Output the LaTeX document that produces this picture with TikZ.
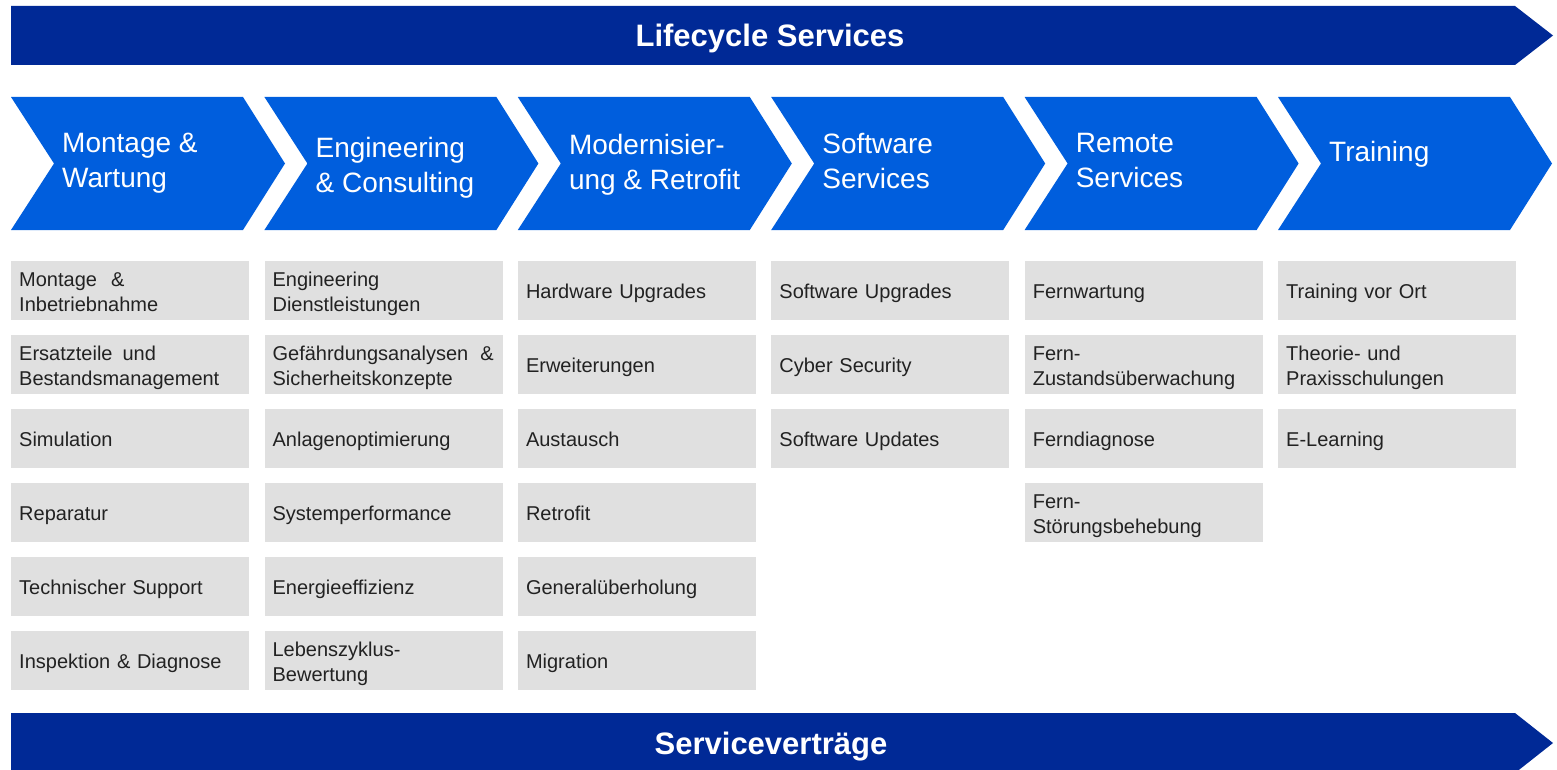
\documentclass[tikz,border=0pt]{standalone}
\usepackage{fontspec}
\setmainfont{Liberation Sans}
\definecolor{dkblue}{RGB}{0,41,150}
\definecolor{chblue}{RGB}{0,94,221}
\definecolor{boxgray}{RGB}{224,224,224}
\definecolor{txtgray}{RGB}{34,34,34}
\begin{document}
\begin{tikzpicture}[x=1pt,y=-1pt,
  banner/.style={fill=dkblue},
  chev/.style={fill=chblue},
  bannertext/.style={text=white,font=\fontsize{31}{36}\selectfont\bfseries,inner sep=0pt},
  chevtext/.style={text=white,font=\fontsize{28}{35}\selectfont,align=left,anchor=west,inner sep=0pt},
  item/.style={anchor=north west,fill=boxgray,minimum height=59pt,text width=222pt,
    inner xsep=8pt,inner ysep=0pt,align=left,text=txtgray,font=\fontsize{20}{25}\selectfont,
    execute at begin node={\rule{0pt}{22pt}},execute at end node={\rule[-6pt]{0pt}{6pt}}}
]
\useasboundingbox (0,0) rectangle (1557,770);
% banners
\fill[banner] (11,6) -- (1515,6) -- (1553,35.5) -- (1515,65) -- (11,65) -- cycle;
\fill[banner] (11,713) -- (1515,713) -- (1553,743) -- (1515,773) -- (11,773) -- cycle;
\node[bannertext] (top) at (770,38) {Lifecycle Services};
\node[bannertext] (bot) at (771,747) {Serviceverträge};
% chevrons
\foreach \k/\txt/\ty in {
  0/{Montage \&\\Wartung}/163,
  1/{Engineering\\\& Consulting}/167.5,
  2/{Modernisier-\\ung \& Retrofit}/164.5,
  3/{Software\\Services}/161,
  4/{Remote\\Services}/161,
  5/{Training}/154}{
  \pgfmathsetmacro\L{11+253.4*\k}
  \fill[chev] (\L,97) -- ++(232,0) -- ++(42,66.5) -- ++(-42,66.5) -- ++(-232,0) -- ++(43,-66.5) -- cycle;
  \node[chevtext] (c\k) at (\L+51,\ty) {\txt};
}
% item boxes
\foreach \c/\items in {
  0/{{Montage\hspace{0.7em}\&\\Inbetriebnahme},{Ersatzteile\hspace{0.5em}und\\Bestandsmanagement},{Simulation},{Reparatur},{Technischer Support},{Inspektion \& Diagnose}},
  1/{{Engineering\\Dienstleistungen},{\mbox{Gefährdungsanalysen\hspace{0.6em}\&}\\Sicherheitskonzepte},{Anlagenoptimierung},{Systemperformance},{Energieeffizienz},{Lebenszyklus-\\Bewertung}},
  2/{{Hardware Upgrades},{Erweiterungen},{Austausch},{Retrofit},{Generalüberholung},{Migration}},
  3/{{Software Upgrades},{Cyber Security},{Software Updates}},
  4/{{Fernwartung},{Fern-\\Zustandsüberwachung},{Ferndiagnose},{Fern-\\Störungsbehebung}},
  5/{{Training vor Ort},{Theorie- und\\Praxisschulungen},{E-Learning}}}{
  \pgfmathsetmacro\L{11+253.4*\c}
  \foreach \t [count=\r from 0] in \items {
    \node[item] (b\c-\r) at (\L,261+74*\r) {\t};
  }
}
\end{tikzpicture}
\end{document}
